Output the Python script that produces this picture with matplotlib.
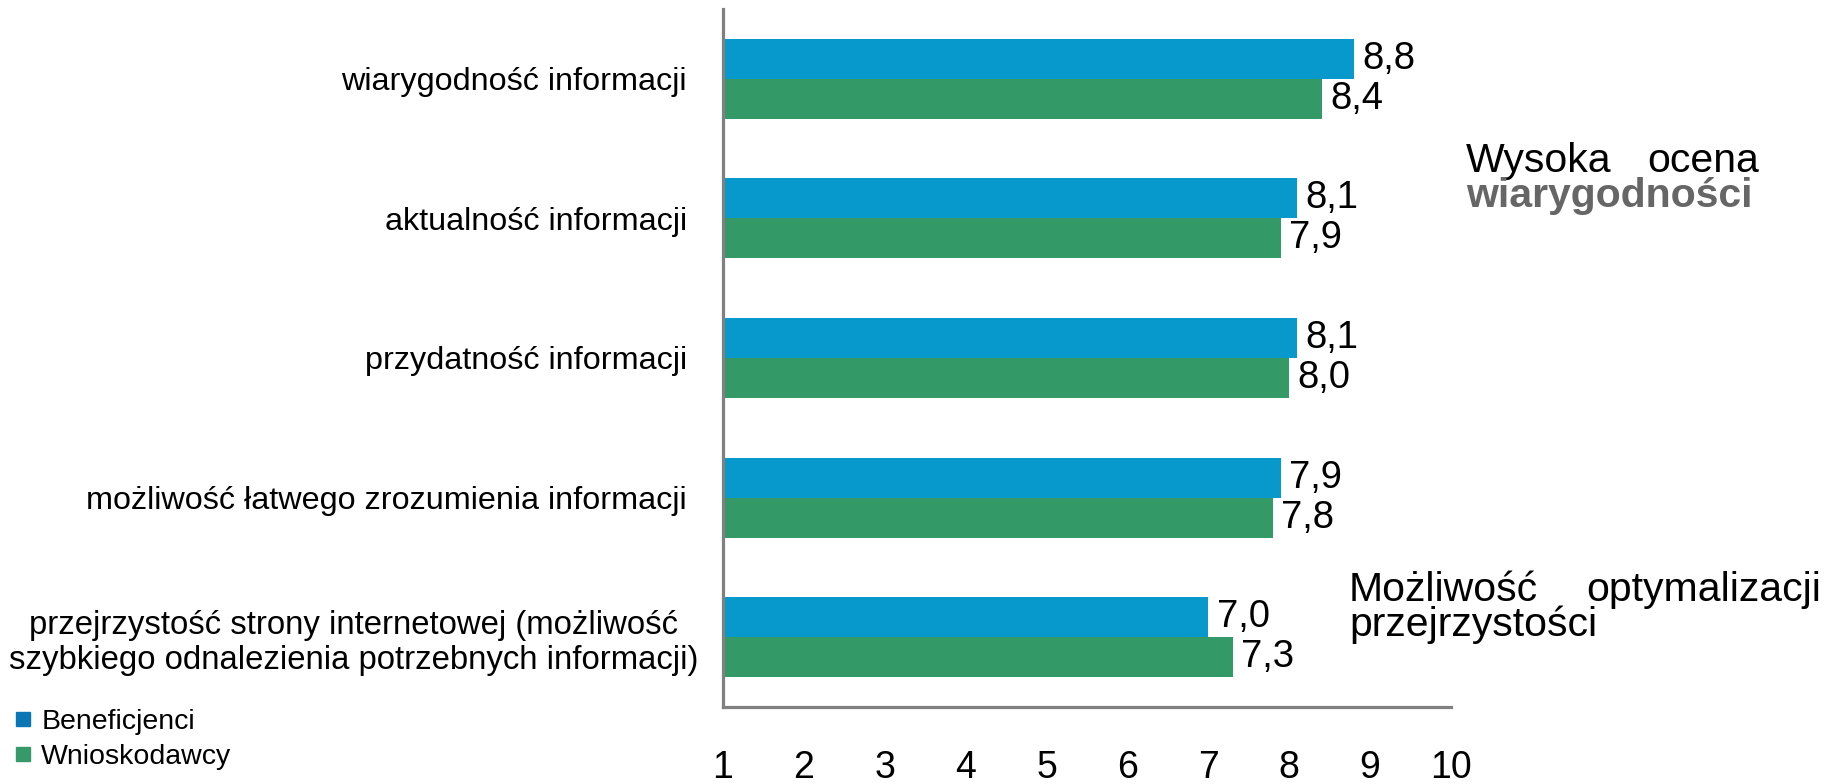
import matplotlib
matplotlib.use('Agg')
import matplotlib.pyplot as plt
from matplotlib.lines import Line2D
import numpy as np

plt.rcParams['font.family'] = ['Liberation Sans', 'DejaVu Sans']

# Oceny informacji (skala 1-10)
kategorie = [
    'wiarygodność informacji',
    'aktualność informacji',
    'przydatność informacji',
    'możliwość łatwego zrozumienia informacji',
    'przejrzystość strony internetowej (możliwość\nszybkiego odnalezienia potrzebnych informacji)',
]
beneficjenci = [8.8, 8.1, 8.1, 7.9, 7.0]
wnioskodawcy = [8.4, 7.9, 8.0, 7.8, 7.3]
serie = ['Beneficjenci', 'Wnioskodawcy']
skala = list(range(1, 11))

kolor_ben = '#0899cc'
kolor_wn = '#339966'
kolor_osi = '#808080'

W, H = 1827, 784
fig = plt.figure(figsize=(W / 100, H / 100), dpi=100)
ax = fig.add_axes([723 / W, 1 - 707 / H, (1451 - 723) / W, (707 - 9) / H])

y = np.arange(len(kategorie))
h = 0.287
ax.barh(y - h / 2, np.array(beneficjenci) - 1, left=1, height=h, color=kolor_ben)
ax.barh(y + h / 2, np.array(wnioskodawcy) - 1, left=1, height=h, color=kolor_wn)

# etykiety wartości z przecinkiem dziesiętnym
for yy, v in zip(y - h / 2, beneficjenci):
    ax.annotate(f'{v:.1f}'.replace('.', ','), (v, yy), xytext=(6, 0),
                textcoords='offset points', va='center', ha='left', fontsize=27.5)
for yy, v in zip(y + h / 2, wnioskodawcy):
    ax.annotate(f'{v:.1f}'.replace('.', ','), (v, yy), xytext=(6, 0),
                textcoords='offset points', va='center', ha='left', fontsize=27.5)

ax.set_xlim(1, 10)
ax.set_ylim(len(kategorie) - 0.5, -0.5)
ax.set_xticks(skala)
ax.set_xticklabels([str(s) for s in skala], fontsize=27)
ax.set_yticks(y)
ax.set_yticklabels(kategorie, fontsize=23.3)
ax.tick_params(axis='x', length=0, pad=31)
ax.tick_params(axis='y', length=0, pad=26)
for lab in ax.get_yticklabels():
    lab.set_multialignment('center')
ax.get_yticklabels()[-1].set_fontsize(23.7)
ax.yaxis.get_major_ticks()[-1].set_pad(18)

for s in ['top', 'right']:
    ax.spines[s].set_visible(False)
for s in ['left', 'bottom']:
    ax.spines[s].set_color(kolor_osi)
    ax.spines[s].set_linewidth(2.3)

# legenda w lewym dolnym rogu
uchwyty = [Line2D([], [], marker='s', ls='', color='#0a76b4', markersize=10),
           Line2D([], [], marker='s', ls='', color='#36996a', markersize=10)]
fig.legend(uchwyty, serie, loc='lower left', bbox_to_anchor=(0.0, 0.0),
           frameon=False, fontsize=20.5, handlelength=0.6, handletextpad=0.35,
           labelspacing=0.3, borderaxespad=0.3, borderpad=0.2)

# komentarze po prawej stronie
def px(x, yb):
    return x / W, 1 - yb / H

fig.text(*px(1466, 172), 'Wysoka', fontsize=29.5, ha='left', va='baseline')
fig.text(*px(1759, 172), 'ocena', fontsize=29.5, ha='right', va='baseline')
fig.text(*px(1466, 207), 'wiarygodności', fontsize=29.5, ha='left', va='baseline',
         fontweight='bold', color='#666666')
fig.text(*px(1349, 601), 'Możliwość', fontsize=29.5, ha='left', va='baseline')
fig.text(*px(1821, 601), 'optymalizacji', fontsize=29.5, ha='right', va='baseline')
fig.text(*px(1349, 636), 'przejrzystości', fontsize=29.5, ha='left', va='baseline')

fig.savefig('out.png', dpi=100)
